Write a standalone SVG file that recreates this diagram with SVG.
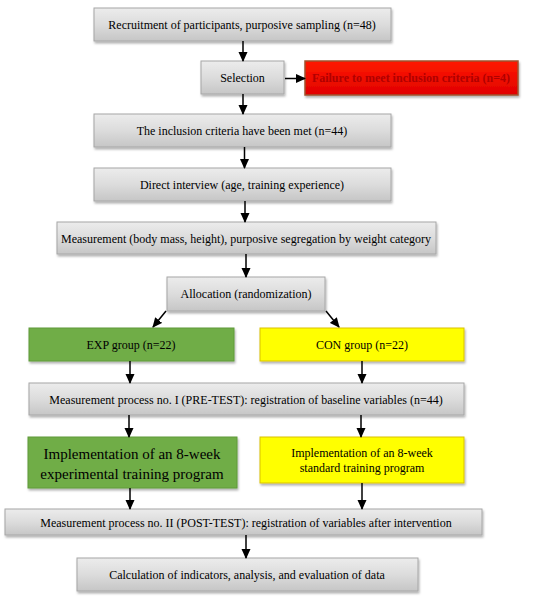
<svg xmlns="http://www.w3.org/2000/svg" width="550" height="599" viewBox="0 0 550 599">
<defs>
<linearGradient id="gray" x1="0" y1="0" x2="0" y2="1">
<stop offset="0" stop-color="#ececec"/>
<stop offset="0.5" stop-color="#dcdcdc"/>
<stop offset="1" stop-color="#c6c6c6"/>
</linearGradient>
<linearGradient id="red" x1="0" y1="0" x2="0" y2="1">
<stop offset="0" stop-color="#ff1a00"/>
<stop offset="1" stop-color="#e00000"/>
</linearGradient>
<filter id="sh" x="-10%" y="-20%" width="120%" height="150%">
<feDropShadow dx="1" dy="2" stdDeviation="1.2" flood-color="#000" flood-opacity="0.3"/>
</filter>
<marker id="ah" markerWidth="10" markerHeight="10" refX="9" refY="5" orient="auto" markerUnits="userSpaceOnUse">
<path d="M0,0.5 L10,5 L0,9.5 Z" fill="#000"/>
</marker>
</defs>
<style>
.g{fill:url(#gray);stroke:#a6a6a6;stroke-width:1;filter:url(#sh)}
.gr{fill:#70ad47;stroke:#5f9a3b;stroke-width:1;filter:url(#sh)}
.y{fill:#ffff00;stroke:#d9c200;stroke-width:1;filter:url(#sh)}
.r{fill:url(#red);stroke:#a0522d;stroke-width:1.5;filter:url(#sh)}
text{font-family:"Liberation Serif","Times New Roman",serif;font-size:12px;fill:#000;text-anchor:middle}
.big{font-size:15px}
.rt{fill:#b00000;font-weight:bold;font-size:12px}
.c line{stroke:#000;stroke-width:1.5;marker-end:url(#ah)}
</style>
<g id="n1"><rect class="g" x="94" y="8" width="297" height="33"/><text x="242" y="29">Recruitment of participants, purposive sampling (n=48)</text></g>
<g id="n2"><rect class="g" x="201" y="61" width="83" height="33"/><text x="242.5" y="82">Selection</text></g>
<g id="n3"><rect class="r" x="305" y="61" width="213" height="34"/><text class="rt" x="411" y="82">Failure to meet inclusion criteria (n=4)</text></g>
<g id="n4"><rect class="g" x="94" y="114" width="297" height="33"/><text x="242" y="135">The inclusion criteria have been met (n=44)</text></g>
<g id="n5"><rect class="g" x="94" y="168" width="297" height="33"/><text x="242" y="189">Direct interview (age, training experience)</text></g>
<g id="n6"><rect class="g" x="57" y="222" width="379" height="32"/><text x="246" y="243">Measurement (body mass, height), purposive segregation by weight category</text></g>
<g id="n7"><rect class="g" x="167" y="277" width="158" height="34"/><text x="246" y="298">Allocation (randomization)</text></g>
<g id="n8"><rect class="gr" x="29" y="328" width="205" height="33"/><text x="131" y="349">EXP group (n=22)</text></g>
<g id="n9"><rect class="y" x="260" y="328" width="204" height="33"/><text x="362" y="349">CON group (n=22)</text></g>
<g id="n10"><rect class="g" x="29" y="383" width="435" height="32"/><text x="246" y="404">Measurement process no. I (PRE-TEST): registration of baseline variables (n=44)</text></g>
<g id="n11"><rect class="gr" x="28" y="437" width="209" height="51"/><text class="big" x="132" y="459">Implementation of an 8-week</text><text class="big" x="132" y="479">experimental training program</text></g>
<g id="n12"><rect class="y" x="260" y="437" width="204" height="46"/><text x="362" y="457">Implementation of an 8-week</text><text x="362" y="472">standard training program</text></g>
<g id="n13"><rect class="g" x="5" y="509" width="477" height="26"/><text x="246" y="527">Measurement process no. II (POST-TEST): registration of variables after intervention</text></g>
<g id="n14"><rect class="g" x="77" y="558" width="341" height="33"/><text x="247" y="579">Calculation of indicators, analysis, and evaluation of data</text></g>
<g id="connectors" class="c">
<line x1="243" y1="41" x2="243" y2="61"/>
<line x1="285" y1="78.5" x2="305" y2="78.5"/>
<line x1="243" y1="94" x2="243" y2="114"/>
<line x1="244.5" y1="147" x2="244.5" y2="168"/>
<line x1="245" y1="201" x2="245" y2="222"/>
<line x1="246" y1="254" x2="246" y2="277"/>
<line x1="166" y1="311" x2="153" y2="327"/>
<line x1="326" y1="311" x2="339" y2="327"/>
<line x1="130" y1="361" x2="130" y2="383"/>
<line x1="362" y1="361" x2="362" y2="383"/>
<line x1="129" y1="415" x2="129" y2="437"/>
<line x1="361" y1="415" x2="361" y2="437"/>
<line x1="130" y1="488" x2="130" y2="509"/>
<line x1="362" y1="483" x2="362" y2="509"/>
<line x1="246" y1="535" x2="246" y2="558"/>
</g>
</svg>
